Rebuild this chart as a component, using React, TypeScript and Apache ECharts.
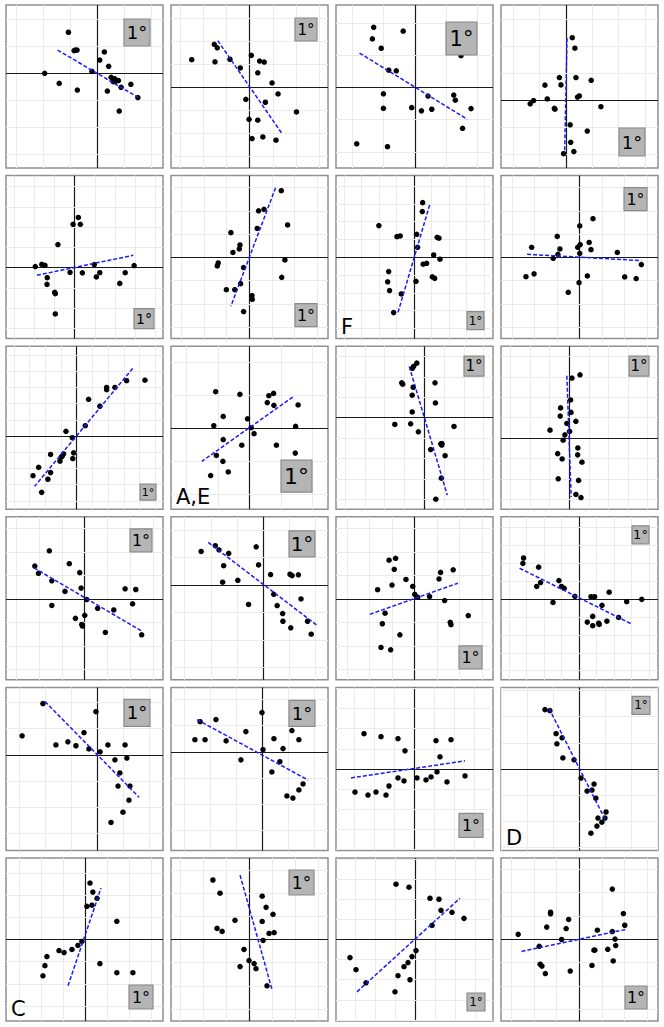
import React, { useEffect, useRef } from "react";
import * as echarts from "echarts";

type Pt = [number, number];

// Axis extents of each panel, in grid units: [xMin, xMax, yMin, yMax]
const extents: number[][] = [
  [-3.38, 2.43, -3.51, 2.53],
  [-3.42, 3.4, -3.51, 3.58],
  [-2.51, 2.49, -2.5, 2.55],
  [-2.47, 3.5, -2.51, 3.53],
  [-3.4, 4.37, -3.51, 4.55],
  [-3.45, 3.47, -3.49, 3.51],
  [-4.47, 4.5, -4.57, 4.59],
  [-3.48, 3.5, -3.49, 3.51],
  [-4.5, 5.5, -4.52, 5.55],
  [-2.49, 2.5, -2.46, 2.48],
  [-4.46, 3.47, -4.48, 3.5],
  [-3.48, 4.53, -3.48, 4.5],
  [-3.47, 3.45, -3.45, 3.5],
  [-3.52, 2.47, -3.45, 2.48],
  [-3.48, 3.5, -3.45, 3.5],
  [-4.47, 4.5, -4.51, 4.59],
  [-3.5, 2.54, -3.65, 2.58],
  [-3.5, 2.54, -3.77, 2.46],
  [-3.9, 3.95, -4.05, 4.05],
  [-3.0, 3.04, -3.12, 3.12],
  [-3.59, 3.55, -3.68, 3.68],
  [-3.39, 3.43, -3.52, 3.52],
  [-3.95, 3.9, -4.05, 4.05],
  [-3.46, 3.48, -3.5, 3.48],
];

const pts1: Pt[] = [[-1.07,1.52],[-0.86,0.84],[-0.81,0.86],[-0.75,0.86],[0.26,0.79],[0.09,0.49],[0.42,0.26],[-0.2,0.07],[-1.95,0.0],[-1.41,-0.37],[-0.74,-0.62],[0.51,-0.15],[0.64,-0.2],[0.67,-0.3],[0.78,-0.27],[0.59,-0.31],[0.88,-0.52],[1.24,-0.41],[1.5,-0.9],[0.37,-0.66],[0.81,-1.4]];
const pts2: Pt[] = [[-1.54,1.87],[-1.41,1.72],[-2.52,1.2],[-1.51,1.11],[-0.86,1.22],[-0.41,0.84],[0.07,1.39],[0.43,1.14],[0.63,1.1],[0.35,0.63],[0.97,0.19],[1.23,-0.29],[-0.17,-0.52],[0.68,-0.65],[2.03,-1.07],[-0.03,-1.39],[0.35,-1.43],[0.1,-2.23],[0.57,-2.16],[1.14,-2.3]];
const pts3: Pt[] = [[-1.31,1.86],[-1.35,1.5],[-0.37,1.74],[-1.07,1.21],[-0.83,0.53],[-0.59,0.51],[1.47,0.98],[1.66,1.08],[-1.0,-0.2],[-1.0,-0.65],[-0.1,-0.63],[0.21,-0.73],[0.42,-0.27],[0.54,-0.68],[1.24,-0.24],[1.29,-0.4],[1.79,-0.66],[1.52,-1.27],[-1.85,-1.75],[-0.87,-1.84]];
const pts4: Pt[] = [[0.24,2.32],[0.34,1.93],[-0.25,0.84],[0.38,0.84],[0.96,0.74],[-0.8,0.56],[-0.19,0.57],[0.44,0.12],[0.51,0.16],[-0.71,0.05],[-1.23,-0.01],[-1.36,-0.13],[-0.44,-0.3],[-0.42,-0.33],[1.33,-0.24],[0.16,-0.91],[0.81,-1.14],[0.18,-1.56],[-0.09,-1.98],[0.3,-1.9]];
const pts5: Pt[] = [[0.18,2.48],[-0.08,2.14],[0.28,2.14],[-0.83,1.14],[-1.95,0.05],[-1.63,0.16],[-1.47,0.11],[-1.36,-0.5],[-1.37,-0.83],[-0.99,-1.22],[-0.96,-1.29],[-0.96,-2.29],[-0.23,-0.23],[0.38,-0.26],[0.97,0.15],[1.07,-0.46],[1.24,-0.25],[2.23,-0.78],[2.5,-0.25],[2.94,0.1]];
const pts6: Pt[] = [[1.41,2.86],[0.41,2.0],[0.65,2.06],[1.69,1.39],[0.35,1.24],[-0.81,1.06],[-0.41,0.53],[-0.44,0.36],[-0.72,0.21],[-1.37,-0.24],[-1.41,-0.37],[-0.25,-0.44],[1.57,-0.11],[1.43,-0.86],[-0.38,-1.13],[-1.01,-1.39],[-0.64,-1.39],[0.12,-1.64],[0.13,-1.8],[-0.25,-2.33]];
const pts7: Pt[] = [[0.48,3.07],[0.46,2.57],[-2.02,1.78],[-0.99,1.16],[-0.8,1.2],[0.14,1.29],[1.31,1.12],[1.41,1.07],[0.19,0.56],[1.11,0.13],[1.47,-0.11],[0.51,-0.39],[0.71,-0.34],[-1.46,-0.8],[-1.52,-1.38],[-1.41,-1.87],[-0.74,-2.06],[0.1,-1.35],[1.03,-1.1],[1.17,-1.18],[-1.18,-3.11]];
const pts8: Pt[] = [[0.61,1.66],[0.02,1.35],[-0.98,0.9],[0.44,0.64],[0.04,0.55],[-0.07,0.43],[0.52,0.33],[-2.12,0.43],[-0.86,0.36],[-0.95,0.13],[0.02,0.17],[-1.16,-0.04],[1.69,0.21],[2.76,-0.31],[-2.37,-0.83],[-2.01,-0.71],[0.36,-0.8],[-0.01,-1.09],[-0.49,-1.5],[2.02,-0.84],[2.53,-0.91]];
const pts9: Pt[] = [[4.35,3.45],[3.18,3.42],[2.44,3.0],[1.91,3.0],[1.91,2.86],[0.76,2.27],[1.48,1.84],[0.55,0.64],[-0.68,0.29],[-0.28,-0.1],[-0.19,-1.04],[-0.25,-1.39],[-0.83,-1.1],[-0.92,-1.24],[-0.98,-1.3],[-1.06,-1.55],[-1.66,-1.14],[-1.66,-2.26],[-2.42,-1.93],[-1.83,-2.67],[-2.78,-2.45],[-2.23,-3.48]];
const pts10: Pt[] = [[-1.07,1.1],[-0.3,1.02],[0.62,0.98],[0.77,1.05],[0.57,0.77],[0.78,0.69],[1.55,0.7],[-0.83,0.35],[-0.06,0.28],[-1.13,0.07],[1.47,0.05],[0.06,0.01],[0.15,-0.17],[-0.83,-0.35],[-0.24,-0.52],[0.86,-0.52],[1.46,-0.76],[-1.05,-0.83],[-0.84,-1.01],[-0.67,-1.33],[-1.23,-1.44]];
const pts11: Pt[] = [[-0.38,2.67],[-0.54,2.51],[-0.61,2.41],[-1.14,1.71],[-1.09,1.64],[-0.56,1.49],[0.54,1.71],[-0.61,1.1],[0.56,0.72],[-0.61,0.28],[-1.49,-0.33],[-0.69,-0.3],[-0.3,-0.69],[1.5,-0.43],[0.83,-1.28],[0.88,-1.34],[0.89,-1.27],[0.32,-1.56],[1.05,-1.86],[0.86,-2.96],[0.58,-3.99]];
const pts12: Pt[] = [[0.55,3.1],[0.14,2.94],[0.07,1.87],[-0.44,1.48],[-0.46,1.08],[0.09,1.26],[0.34,0.82],[-0.12,0.72],[-0.98,0.39],[0.02,0.33],[-0.22,0.16],[-0.31,-0.1],[0.44,-0.48],[-0.59,-0.76],[0.43,-0.82],[-0.36,-1.02],[0.65,-1.18],[-0.56,-1.99],[0.48,-2.07],[0.34,-2.76],[0.6,-2.91]];
const pts13: Pt[] = [[-1.56,2.05],[-2.2,1.4],[-2.04,1.09],[-1.45,0.77],[-0.68,1.5],[-0.22,1.12],[-0.16,0.46],[-0.87,0.32],[0.09,-0.03],[-1.45,-0.28],[1.78,0.43],[2.25,0.4],[2.11,-0.21],[0.57,-0.4],[1.28,-0.47],[0.0,-0.7],[-0.41,-0.83],[-0.13,-1.09],[-0.1,-1.16],[0.91,-1.43],[2.51,-1.53]];
const pts14: Pt[] = [[-2.37,1.22],[-1.83,1.43],[-1.69,1.28],[-1.32,1.15],[-0.27,1.39],[-1.51,0.7],[-0.18,0.73],[-1.55,0.1],[-0.97,0.17],[0.28,0.38],[1.02,0.39],[1.1,0.34],[1.34,0.37],[0.4,-0.34],[-0.56,-0.71],[0.53,-0.75],[1.44,-0.51],[0.74,-1.04],[0.75,-1.32],[1.05,-1.56],[1.69,-1.32],[1.83,-1.79]];
const pts15: Pt[] = [[-1.12,1.65],[-0.83,1.73],[-0.89,1.26],[-0.37,0.83],[-0.99,0.59],[-1.63,0.39],[-0.07,0.53],[0.02,0.19],[0.15,0.07],[0.68,0.1],[1.1,0.85],[1.17,1.13],[1.73,1.24],[1.35,-0.07],[2.4,-0.71],[-1.3,-0.61],[-1.42,-1.06],[-0.64,-1.53],[1.6,-1.0],[1.63,-1.1],[-1.48,-2.07],[-1.05,-2.17]];
const pts16: Pt[] = [[-3.18,2.29],[-3.22,1.99],[-2.32,1.78],[-2.21,0.92],[-2.43,0.7],[-1.16,1.03],[-1.01,0.7],[-0.86,0.6],[-0.25,0.15],[-1.5,-0.19],[0.67,0.13],[0.88,0.13],[1.71,0.38],[1.3,-0.35],[2.71,-0.15],[3.57,-0.02],[0.77,-0.97],[2.25,-1.03],[0.46,-1.29],[1.11,-1.35],[1.14,-1.42],[1.58,-1.24],[0.77,-1.49]];
const pts17: Pt[] = [[-2.88,0.73],[-2.08,1.96],[-1.58,0.38],[-1.12,0.5],[-0.81,0.35],[-0.5,0.85],[-0.31,0.23],[-0.04,1.65],[0.12,0.12],[0.42,0.38],[0.69,-0.19],[1.08,0.38],[1.15,-0.12],[0.88,-0.69],[0.81,-1.19],[1.27,-1.19],[1.23,-1.73],[1.0,-2.19],[0.54,-2.58]];
const pts18: Pt[] = [[-2.58,0.46],[-2.19,0.46],[-2.38,1.15],[-1.77,1.23],[-1.38,0.42],[-0.62,0.77],[-0.81,-0.31],[0.0,1.5],[0.04,0.08],[0.46,0.5],[0.69,-0.38],[1.15,0.81],[1.42,0.46],[0.81,0.12],[0.96,-1.69],[1.19,-1.77],[1.42,-1.46],[1.58,-1.23],[0.38,-0.77]];
const pts19: Pt[] = [[-2.5,1.75],[-1.65,1.6],[-0.8,1.5],[-0.45,0.9],[1.1,1.4],[1.85,1.45],[1.3,0.6],[-2.95,-1.15],[-2.3,-1.3],[-1.9,-1.15],[-1.4,-1.3],[-1.25,-0.85],[-0.8,-0.45],[-0.5,-0.6],[0.15,-0.45],[0.6,-0.55],[0.85,-0.4],[1.15,-0.15],[1.65,-0.65],[2.55,-0.35]];
const pts20: Pt[] = [[-1.31,2.27],[-1.12,2.23],[-0.88,1.35],[-0.65,1.19],[-0.85,0.96],[-0.62,0.42],[-0.19,0.35],[0.08,-0.35],[0.31,-0.85],[0.5,-0.81],[0.58,-0.58],[0.65,-1.12],[0.73,-1.88],[0.88,-2.04],[1.0,-1.88],[0.69,-2.19],[0.46,-2.46],[1.04,-1.65]];
const pts21: Pt[] = [[0.23,2.55],[0.36,2.14],[0.09,1.5],[0.32,1.55],[0.55,1.86],[1.45,0.82],[-0.32,-0.27],[-0.59,-0.45],[-0.95,-0.59],[-1.18,-0.5],[-1.73,-0.77],[-1.82,-1.18],[-1.91,-1.64],[0.68,-1.09],[1.45,-1.5],[2.18,-1.5],[-0.14,-0.09]];
const pts22: Pt[] = [[-1.57,2.57],[-1.26,2.0],[-1.39,0.48],[-1.17,0.35],[-0.61,0.83],[0.57,1.87],[0.74,1.39],[1.04,1.09],[0.57,0.78],[0.87,0.26],[1.09,0.3],[0.61,-0.04],[-0.22,-0.43],[0.0,-0.91],[0.22,-1.04],[0.3,-1.26],[-0.39,-1.17],[0.78,-2.0]];
const pts23: Pt[] = [[-0.95,2.75],[-0.3,2.6],[0.75,2.05],[1.2,2.0],[1.3,1.45],[1.85,1.35],[2.45,1.05],[0.85,0.7],[-3.25,-0.9],[-2.95,-1.5],[-2.45,-2.15],[-0.85,-1.8],[-0.55,-1.35],[-0.35,-1.15],[-0.15,-0.85],[0.05,-0.55],[-1.0,-2.6],[-0.25,-2.0]];
const pts24: Pt[] = [[1.46,2.15],[-1.27,1.16],[-1.27,1.09],[-0.47,0.85],[-1.44,0.52],[-0.58,0.46],[1.95,1.1],[2.01,0.6],[0.8,0.39],[1.46,0.33],[-2.7,0.21],[-0.78,-0.01],[1.58,0.01],[-1.77,-0.3],[1.61,-0.27],[1.26,-0.43],[0.65,-0.47],[0.69,-0.46],[1.5,-0.93],[-1.73,-1.07],[-1.65,-1.15],[-1.5,-1.47],[-0.4,-1.36],[0.56,-1.12]];

const points: Pt[][] = [pts1,pts2,pts3,pts4,pts5,pts6,pts7,pts8,pts9,pts10,pts11,pts12,pts13,pts14,pts15,pts16,pts17,pts18,pts19,pts20,pts21,pts22,pts23,pts24];

// Fitted line end points of each panel
const fits: Pt[][] = [
  [[-1.47,0.86],[1.5,-0.89]],
  [[-1.39,2.03],[1.42,-2.04]],
  [[-1.76,1.06],[1.67,-0.99]],
  [[0.04,2.3],[-0.05,-1.94]],
  [[-1.87,-0.38],[2.9,0.61]],
  [[1.16,2.99],[-0.81,-2.1]],
  [[0.88,2.94],[-0.95,-3.18]],
  [[-2.32,0.13],[2.76,-0.14]],
  [[3.57,4.18],[-2.68,-3.11]],
  [[1.38,0.94],[-1.51,-1.01]],
  [[-0.76,2.51],[1.16,-3.79]],
  [[-0.12,3.05],[0.1,-2.89]],
  [[-2.23,1.32],[2.49,-1.36]],
  [[-2.1,1.55],[2.08,-1.49]],
  [[-1.98,-0.66],[1.94,0.67]],
  [[-3.41,1.72],[2.94,-1.37]],
  [[-2.0,2.04],[1.62,-1.62]],
  [[-2.5,1.23],[1.77,-1.08]],
  [[-3.15,-0.45],[2.55,0.4]],
  [[-1.15,2.31],[1.04,-2.0]],
  [[-0.77,-2.09],[0.73,2.32]],
  [[-0.39,2.78],[1.0,-2.17]],
  [[-2.9,-2.6],[2.25,2.05]],
  [[-2.55,-0.52],[2.1,0.43]],
];

const boxLabel = "1°";
const panelLetters: { panel: number; text: string }[] = [
  { panel: 6, text: "F" },
  { panel: 9, text: "A,E" },
  { panel: 19, text: "D" },
  { panel: 20, text: "C" },
];

// Layout (pixels): box position inside panel [left, top, width, height, fontSize]
const boxLayout: number[][] = [
  [118,14,26,27,18],[124,13,22,23,15],[110,17,31,33,21],[118,123,26,28,18],
  [128,133,20,20,14],[124,128,22,23,16],[131,136,17,18,12],[123,12,23,23,16],
  [134,138,16,16,11],[110,114,31,32,22],[128,10,20,20,15],[128,10,20,20,15],
  [124,12,22,23,16],[118,14,26,26,20],[123,129,23,23,16],[131,9,17,18,13],
  [118,12,26,27,18],[118,13,26,26,18],[123,126,24,24,16],[131,9,18,18,12],
  [123,127,24,24,16],[118,12,25,25,17],[131,135,18,18,12],[124,128,22,23,16],
];

const PANEL_W = 157;
const PANEL_H = 163;
const COL_STEP = 165;
const ROW_STEP = 170.6;
const LEFT0 = 6;
const TOP0 = 5;
const FONT = "DejaVu Sans";

function gridLines(min: number, max: number, axis: "xAxis" | "yAxis") {
  const out: any[] = [];
  for (let v = Math.ceil(min); v <= Math.floor(max); v++) {
    if (v === 0) {
      out.push({ [axis]: 0, lineStyle: { color: "#1a1a1a", width: 1.2, type: "solid" } });
    } else {
      out.push({ [axis]: v });
    }
  }
  return out;
}

export default function App() {
  const ref = useRef<HTMLDivElement>(null);

  useEffect(() => {
    if (!ref.current) return;
    const chart = echarts.init(ref.current, null, { renderer: "svg" });

    const grids: any[] = [];
    const xAxes: any[] = [];
    const yAxes: any[] = [];
    const series: any[] = [];
    const graphics: any[] = [];

    for (let i = 0; i < 24; i++) {
      const r = Math.floor(i / 4);
      const c = i % 4;
      const left = LEFT0 + c * COL_STEP;
      const top = TOP0 + r * ROW_STEP;
      const [xmin, xmax, ymin, ymax] = extents[i];

      grids.push({
        left, top, width: PANEL_W, height: PANEL_H,
        show: true, borderColor: "#909090", borderWidth: 1.5, backgroundColor: "#ffffff",
      });
      xAxes.push({ type: "value", gridIndex: i, min: xmin, max: xmax, show: false });
      yAxes.push({ type: "value", gridIndex: i, min: ymin, max: ymax, show: false });

      series.push({
        type: "line",
        xAxisIndex: i, yAxisIndex: i,
        data: [],
        z: 1,
        silent: true,
        markLine: {
          z: 1,
          silent: true,
          symbol: "none",
          animation: false,
          label: { show: false },
          lineStyle: { color: "#ebebeb", width: 1, type: "solid" },
          data: [...gridLines(xmin, xmax, "xAxis"), ...gridLines(ymin, ymax, "yAxis")],
        },
      });
      series.push({
        type: "scatter",
        xAxisIndex: i, yAxisIndex: i,
        data: points[i],
        symbol: "circle",
        symbolSize: 5.5,
        clip: false,
        silent: true,
        itemStyle: { color: "#000000", opacity: 1, borderWidth: 0 },
        emphasis: { disabled: true },
        z: 10,
      });
      series.push({
        type: "line",
        xAxisIndex: i, yAxisIndex: i,
        data: fits[i],
        symbol: "none",
        showSymbol: false,
        silent: true,
        lineStyle: { color: "#1a1aff", width: 1.5, type: [4, 2] },
        z: 11,
      });

      const [bl, bt, bw, bh, fs] = boxLayout[i];
      graphics.push({
        type: "rect",
        z: 100,
        shape: { x: left + bl, y: top + bt, width: bw, height: bh },
        style: { fill: "#b5b5b5", stroke: "#8a8a8a", lineWidth: 1.2 },
      });
      graphics.push({
        type: "text",
        z: 101,
        x: left + bl + bw / 2,
        y: top + bt + bh / 2,
        style: {
          text: boxLabel,
          fontSize: fs,
          fontFamily: FONT,
          fill: "#000000",
          align: "center",
          verticalAlign: "middle",
        },
      });
    }

    panelLetters.forEach(({ panel, text }) => {
      const r = Math.floor(panel / 4);
      const c = panel % 4;
      graphics.push({
        type: "text",
        z: 101,
        x: LEFT0 + c * COL_STEP + 5,
        y: TOP0 + r * ROW_STEP + 151,
        style: {
          text,
          fontSize: 21,
          fontFamily: FONT,
          fill: "#000000",
          align: "left",
          verticalAlign: "middle",
        },
      });
    });

    chart.setOption({
      animation: false,
      backgroundColor: "#ffffff",
      grid: grids,
      xAxis: xAxes,
      yAxis: yAxes,
      series,
      graphic: { elements: graphics },
    });

    return () => chart.dispose();
  }, []);

  return (
    <div
      ref={ref}
      style={{ position: "absolute", left: 0, top: 0, width: 664, height: 1027, background: "#fff" }}
    />
  );
}
